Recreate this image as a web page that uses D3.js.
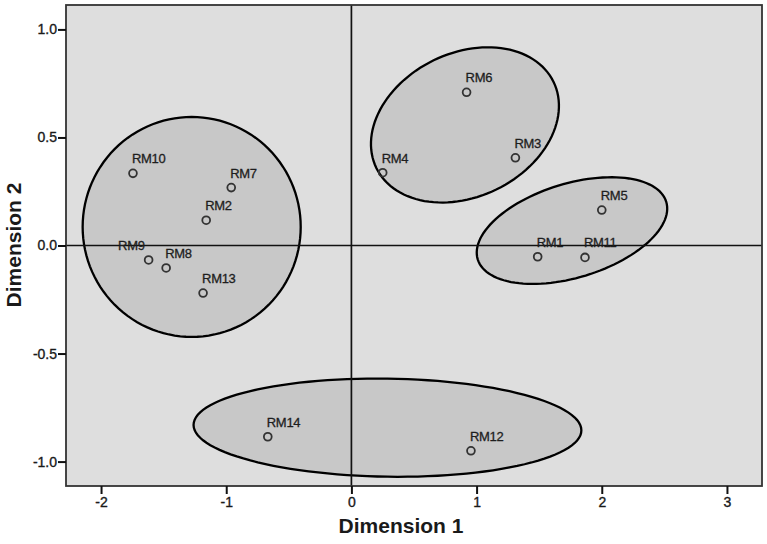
<!DOCTYPE html>
<html>
<head>
<meta charset="utf-8">
<script src="https://cdn.jsdelivr.net/npm/d3@7"></script>
<style>
  html, body { margin: 0; padding: 0; background: #ffffff; }
  svg { display: block; font-family: "Liberation Sans", Arial, sans-serif; }
</style>
</head>
<body>
<svg id="chart" width="767" height="544"></svg>
<script>
// ---- data ----
const labels = ["RM1","RM2","RM3","RM4","RM5","RM6","RM7","RM8","RM9","RM10","RM11","RM12","RM13","RM14"];
const dim1   = [1.488,-1.160,1.310,0.250,2.000,0.920,-0.960,-1.480,-1.620,-1.745,1.866,0.955,-1.185,-0.668];
const dim2   = [-0.052,0.117,0.406,0.337,0.164,0.709,0.268,-0.104,-0.067,0.334,-0.055,-0.950,-0.220,-0.885];

const xTicks = [-2, -1, 0, 1, 2, 3];
const yTicks = [-1.0, -0.5, 0.0, 0.5, 1.0];

// cluster ellipses: centre and two conjugate half-axes, in data units
const ellipseCx = [-1.276, 0.907, 1.762, 0.288];
const ellipseCy = [0.086, 0.558, 0.069, -0.843];
const ellipseUx = [0.871, 0.708, 0.753, 1.549];
const ellipseUy = [0.000, 0.199, 0.133, -0.0125];
const ellipseVx = [0.000, 0.250, 0.109, 0.000];
const ellipseVy = [0.509, -0.299, -0.208, 0.227];

const xTitle = "Dimension 1";
const yTitle = "Dimension 2";

// ---- layout ----
const svg = d3.select("#chart");
const L = 66, R = 762, T = 5, B = 486;

const x = d3.scaleLinear().domain([-2.28, 3.28]).range([L, R]);
const y = d3.scaleLinear().domain([-1.113, 1.113]).range([B, T]);

// plot background
svg.append("rect")
  .attr("x", L).attr("y", T).attr("width", R - L).attr("height", B - T)
  .attr("fill", "#dedede");

// ellipses
const tSteps = d3.range(0, 360, 3).map(d => d * Math.PI / 180);
const line = d3.line().x(d => x(d[0])).y(d => y(d[1])).curve(d3.curveLinearClosed);
ellipseCx.forEach((cx, i) => {
  const pts = tSteps.map(t => [
    cx + ellipseUx[i] * Math.cos(t) + ellipseVx[i] * Math.sin(t),
    ellipseCy[i] + ellipseUy[i] * Math.cos(t) + ellipseVy[i] * Math.sin(t)
  ]);
  svg.append("path")
    .attr("d", line(pts))
    .attr("fill", "#c8c8c8")
    .attr("stroke", "#000")
    .attr("stroke-width", 2.3);
});

// reference lines at 0
svg.append("line")
  .attr("x1", L).attr("x2", R).attr("y1", y(0)).attr("y2", y(0))
  .attr("stroke", "#111").attr("stroke-width", 1.7);
svg.append("line")
  .attr("x1", x(0)).attr("x2", x(0)).attr("y1", T).attr("y2", B)
  .attr("stroke", "#111").attr("stroke-width", 1.7);

// frame
svg.append("rect")
  .attr("x", L).attr("y", T).attr("width", R - L).attr("height", B - T)
  .attr("fill", "none").attr("stroke", "#333").attr("stroke-width", 1.8);

// axes (hyphen-minus as in the original)
const fmtX = d => d3.format("d")(d).replace("\u2212", "-");
const fmtY = d => d3.format(".1f")(d).replace("\u2212", "-");
const xAxis = d3.axisBottom(x).tickValues(xTicks).tickFormat(fmtX)
  .tickSize(8).tickSizeOuter(0).tickPadding(3);
const yAxis = d3.axisLeft(y).tickValues(yTicks).tickFormat(fmtY)
  .tickSize(8).tickSizeOuter(0).tickPadding(1);

const gx = svg.append("g").attr("transform", `translate(0,${B})`).call(xAxis);
const gy = svg.append("g").attr("transform", `translate(${L},0)`).call(yAxis);
[gx, gy].forEach(g => {
  g.select(".domain").remove();
  g.selectAll(".tick line").attr("stroke", "#111").attr("stroke-width", 2);
  g.selectAll(".tick text")
    .attr("fill", "#1a1a1a")
    .attr("stroke", "#1a1a1a").attr("stroke-width", 0.35)
    .style("font-family", "'Liberation Sans', Arial, sans-serif")
    .style("font-size", "14px");
});

// points
const pts = labels.map((n, i) => ({ n, a: dim1[i], b: dim2[i] }));
svg.append("g").selectAll("circle").data(pts).join("circle")
  .attr("cx", d => x(d.a)).attr("cy", d => y(d.b)).attr("r", 3.9)
  .attr("fill", "none").attr("stroke", "#333").attr("stroke-width", 1.8);

// point labels
svg.append("g").selectAll("text").data(pts).join("text")
  .attr("x", d => d.n === "RM9" ? x(d.a) - 4 : x(d.a) - 1)
  .attr("y", d => y(d.b) - 10)
  .attr("text-anchor", d => d.n === "RM9" ? "end" : "start")
  .attr("fill", "#1e1e1e")
  .attr("stroke", "#1e1e1e").attr("stroke-width", 0.3)
  .style("font-size", "13px")
  .style("letter-spacing", "-0.3px")
  .text(d => d.n);

// axis titles
svg.append("text")
  .attr("x", 401).attr("y", 533)
  .attr("text-anchor", "middle")
  .attr("fill", "#1a1a1a")
  .style("font-size", "21px").style("font-weight", "bold")
  .text(xTitle);
svg.append("text")
  .attr("transform", `translate(21,245) rotate(-90)`)
  .attr("text-anchor", "middle")
  .attr("fill", "#1a1a1a")
  .style("font-size", "21px").style("font-weight", "bold")
  .text(yTitle);
</script>
</body>
</html>
